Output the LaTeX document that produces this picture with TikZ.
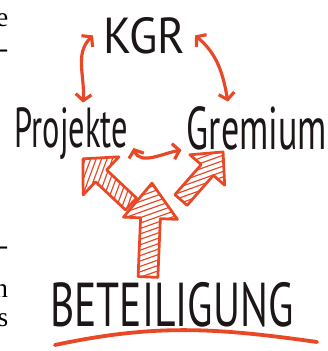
\documentclass[tikz,border=0pt]{standalone}
\usepackage{fontspec}
\usepackage{graphicx}
\setmainfont{Liberation Serif}
\newfontfamily\markerfont{PT Sans}
\usetikzlibrary{arrows.meta}
\definecolor{markerred}{RGB}{232, 72, 38}
\definecolor{inkblack}{RGB}{28, 22, 22}

% hatched block arrow: tail, angle, length, head length, head half width, shaft half width, hatch angle
\newcommand{\hatcharrow}[7]{%
  \begin{scope}[shift={#1}, rotate=#2]
    \def\arrowoutline{(0,-#6) -- (#3-#4,-#6) -- (#3-#4,-#5) -- (#3,0)
                      -- (#3-#4,#5) -- (#3-#4,#6) -- (0,#6) -- cycle}
    \fill[white] \arrowoutline;
    \begin{scope}
      \clip \arrowoutline;
      \begin{scope}[rotate=#7]
        \foreach \s in {-4,-3.83,...,4}
          \draw[hatch] (-4,\s) -- (4,\s);
      \end{scope}
    \end{scope}
    \draw[bigarrow] \arrowoutline;
  \end{scope}}

\begin{document}
\begin{tikzpicture}[
    word/.style={font=\markerfont, text=inkblack, inner sep=5pt},
    frag/.style={anchor=base east, inner sep=0pt, font=\fontsize{26}{30}\selectfont, text=black},
    dbl/.style={{Straight Barb[length=6pt, width=15pt]}-{Straight Barb[length=6pt, width=15pt]},
                line width=3pt, markerred, line cap=round},
    bigarrow/.style={draw=markerred, line width=2.6pt, line join=round},
    hatch/.style={markerred, line width=1.1pt},
    strokeline/.style={markerred, line width=3.6pt, line cap=round}
]
\path[use as bounding box, fill=white] (0,0) rectangle (10.9,11.7);

%% ── PAGE EDGE ───────────────────────────────────────────────────────────────
\node[frag] (fraga) at (0.28,10.83) {e};
\node[frag] (fragb) at (0.28, 9.77) {-};
\node[frag] (fragc) at (0.28, 3.20) {-};
\node[frag] (fragd) at (0.28, 1.77) {n};
\node[frag] (frage) at (0.28, 0.80) {s};

%% ── WORDS ───────────────────────────────────────────────────────────────────
\node[word, anchor=base, inner sep=0.33cm] (kgr) at (4.8, 9.93) {\resizebox{2.73cm}{1.2cm}{KGR}};
\node[word, anchor=base] (projekte) at (2.383, 6.767) {\resizebox{3.77cm}{1.33cm}{Projekte}};
\node[word, anchor=base] (gremium)  at (8.567, 6.70)  {\resizebox{4.67cm}{1.43cm}{Gremium}};
\node[word, anchor=base] (beteiligung) at (5.733, 0.833) {\resizebox{8.1cm}{1.47cm}{BETEILIGUNG}};

%% ── CYCLE ───────────────────────────────────────────────────────────────────
\draw[dbl] (kgr.west) to[out=225, in=85] ([xshift=0.38cm]projekte.north);
\draw[dbl] (kgr.east) to[out=-40, in=100] ([xshift=-0.97cm]gremium.north);
\draw[dbl] (projekte.base east) to[out=-70, in=190] (gremium.base west);

%% ── BIG ARROWS ──────────────────────────────────────────────────────────────
% hatch angle is taken relative to the arrow
\hatcharrow{(4.367,4.9)}{136.8}{2.2}{0.83}{0.87}{0.27}{-67}
\hatcharrow{(6.033,5.033)}{48.8}{2.13}{0.8}{0.77}{0.27}{-29}
\hatcharrow{(4.933,2.467)}{87.6}{3.13}{1.17}{0.9}{0.33}{-68}

% underline
\draw[strokeline] (1.83,0.2) to[out=12, in=172] (10.57,0.3);

\end{tikzpicture}
\end{document}
